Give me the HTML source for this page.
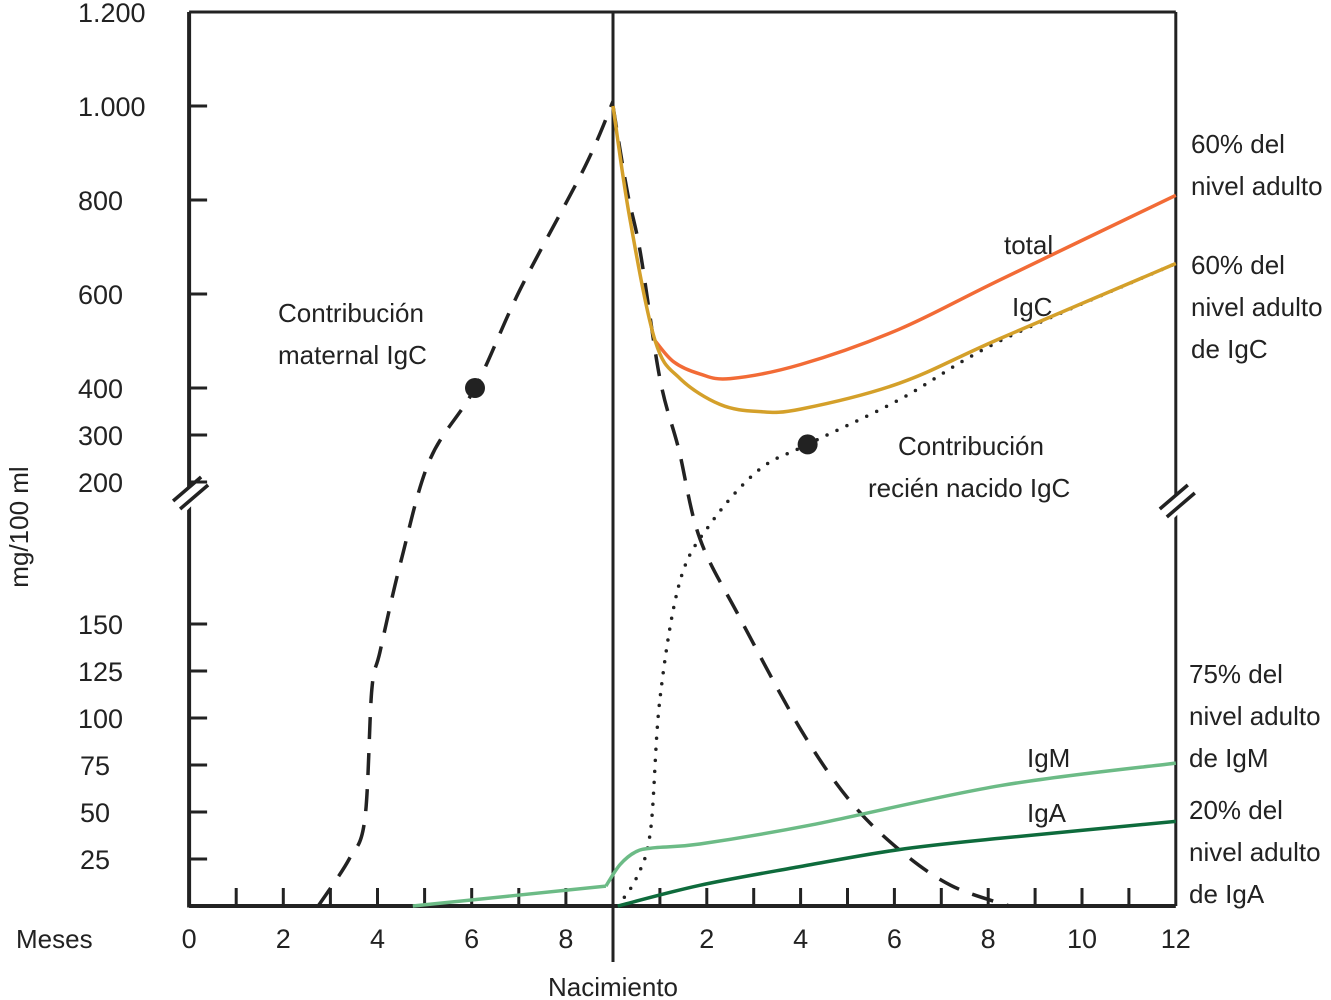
<!DOCTYPE html>
<html><head><meta charset="utf-8"><style>
html,body{margin:0;padding:0;background:#fff}
svg{display:block}
text{font-family:"Liberation Sans","DejaVu Sans",sans-serif;fill:#222}
</style></head><body>
<svg id="chart" width="1331" height="1000" viewBox="0 0 1331 1000" xmlns="http://www.w3.org/2000/svg">
<g id="axes"></g>
<g id="series"></g>
<g id="labels">
<text x="28" y="527" font-size="26" text-anchor="middle" transform="rotate(-90 28 527)">mg/100 ml</text>
<text x="16" y="948" font-size="26">Meses</text>
<text x="613" y="996" font-size="26" text-anchor="middle">Nacimiento</text>
<text x="278" y="322" font-size="26">Contribución</text>
<text x="278" y="364" font-size="26">maternal IgC</text>
<text x="898" y="455" font-size="26">Contribución</text>
<text x="868" y="497" font-size="26">recién nacido IgC</text>
<text x="1004" y="254" font-size="26">total</text>
<text x="1012" y="316" font-size="26">IgC</text>
<text x="1027" y="767" font-size="26">IgM</text>
<text x="1027" y="822" font-size="26">IgA</text>
<g font-size="26">
<text x="1191" y="153">60% del</text><text x="1191" y="195">nivel adulto</text>
<text x="1191" y="274">60% del</text><text x="1191" y="316">nivel adulto</text><text x="1191" y="358">de IgC</text>
<text x="1189" y="683">75% del</text><text x="1189" y="725">nivel adulto</text><text x="1189" y="767">de IgM</text>
<text x="1189" y="819">20% del</text><text x="1189" y="861">nivel adulto</text><text x="1189" y="903">de IgA</text>
</g>
</g>
</svg>
<script>
// months relative to birth (negative = pregnancy), values mg/100 ml
const yTicksUpper = [1200, 1000, 800, 600, 400, 300, 200];
const yTickLabelsUpper = ["1.200", "1.000", "800", "600", "400", "300", "200"];
const yTicksLower = [150, 125, 100, 75, 50, 25];
const xTicksLeft = [0, 2, 4, 6, 8];
const xTicksRight = [2, 4, 6, 8, 10, 12];
const maternalM = [-6.26, -5.6, -5.27, -5.12, -4.95, -4.5, -3.89, -2.93, -1.97, -0.6, 0];
const maternalV = [0, 25, 46, 115, 135, 172, 247, 400, 610, 870, 1010];
const decayM = [0, 0.3, 0.58, 1.0, 1.4, 1.85, 2.7, 4.0, 5.05, 6.1, 7.2, 8.45];
const decayV = [1000, 820, 690, 420, 270, 180, 152, 94, 56, 30, 11, 0];
const newbornM = [0.1, 0.5, 0.8, 1.0, 1.43, 2.07, 3.1, 4.15, 6.1, 8.25, 12];
const newbornV = [0, 15, 40, 110, 165, 185, 225, 280, 375, 500, 665];
const iggM = [0, 0.36, 0.9, 1.43, 2.28, 3.1, 4, 6.1, 8.25, 12];
const iggV = [1000, 760, 500, 420, 365, 350, 355, 410, 505, 665];
const totalM = [0.9, 1.3, 1.85, 2.5, 4, 6.1, 8.25, 12];
const totalV = [500, 455, 430, 420, 450, 525, 630, 810];
const igmPreM = [-4.25, -0.15];
const igmPreV = [0, 10.6];
const igmPostM = [-0.15, 0.15, 0.5, 0.9, 1.85, 4.2, 8.25, 12];
const igmPostV = [10.6, 22, 29, 31, 33, 43, 64, 76];
const igaM = [0.1, 1.85, 4, 6.1, 8.25, 12];
const igaV = [0, 11, 21, 30, 36, 45];
const markerM = [-2.93, 4.15];
const markerV = [400, 280];

const NS = "http://www.w3.org/2000/svg";
function x(m){ return m < 0 ? 613 + m * 47.1 : 613 + m * 46.9; }
function y(v){
  if (v >= 200) return 482 - (v - 200) * 0.47;
  if (v <= 150) return 906 - v * 1.88;
  return 623 - (v - 150) / 50 * 141;
}
function el(tag, attrs, parent){
  const e = document.createElementNS(NS, tag);
  for (const k in attrs) e.setAttribute(k, attrs[k]);
  parent.appendChild(e); return e;
}
function smooth(ms, vs){
  const p = ms.map((m,i)=>[x(m), y(vs[i])]);
  let d = "M" + p[0][0].toFixed(1) + "," + p[0][1].toFixed(1);
  for (let i=0;i<p.length-1;i++){
    const p0=p[i-1]||p[i], p1=p[i], p2=p[i+1], p3=p[i+2]||p2;
    const c1=[p1[0]+(p2[0]-p0[0])/6, p1[1]+(p2[1]-p0[1])/6];
    const c2=[p2[0]-(p3[0]-p1[0])/6, p2[1]-(p3[1]-p1[1])/6];
    d += " C"+c1.map(n=>n.toFixed(1)).join(",")+" "+c2.map(n=>n.toFixed(1)).join(",")+" "+p2.map(n=>n.toFixed(1)).join(",");
  }
  return d;
}
const axes = document.getElementById("axes");
const series = document.getElementById("series");
const X0 = x(-9), X1 = x(12), YB = 906;
let e;
e = el("line",{x1:X0,y1:12,x2:X1,y2:12,stroke:"#222","stroke-width":3},axes);
 
e = el("line",{x1:X0,y1:12,x2:X0,y2:YB+1.5,stroke:"#222","stroke-width":4},axes);
 
e = el("line",{x1:X1,y1:12,x2:X1,y2:YB,stroke:"#222","stroke-width":3},axes);
 
e = el("line",{x1:X0,y1:YB,x2:X1,y2:YB,stroke:"#222","stroke-width":4},axes);
 
e = el("line",{x1:613,y1:12,x2:613,y2:962,stroke:"#222","stroke-width":3},axes);
 
[[X0,497],[X1,505]].forEach(([bx,by])=>{
  el("rect",{x:bx-14,y:by-6,width:28,height:14,fill:"#fff",transform:`rotate(-45 ${bx} ${by})`},axes);
  e = el("path",{d:`M${bx-16},${by+4} L${bx+12},${by-20} M${bx-9},${by+12} L${bx+19},${by-12}`,stroke:"#222","stroke-width":3.5,fill:"none"},axes);
   
});
yTicksUpper.forEach((v,i)=>{
  if (v!==1200){ e = el("line",{x1:X0,y1:y(v),x2:X0+18,y2:y(v),stroke:"#222","stroke-width":3},axes);
    }
  const t = el("text",{x:78,y:y(v)+10,"font-size":27},axes);
  t.textContent = yTickLabelsUpper[i];
   
});
yTicksLower.forEach(v=>{
  e = el("line",{x1:X0,y1:y(v),x2:X0+18,y2:y(v),stroke:"#222","stroke-width":3},axes);
   
  const t = el("text",{x:v<100?80:78,y:y(v)+10,"font-size":27},axes);
  t.textContent = String(v);
   
});
for (let m=-8;m<=11;m++){
  if (m===0) continue;
  e = el("line",{x1:x(m),y1:YB,x2:x(m),y2:YB-18,stroke:"#222","stroke-width":3},axes);
   
}
xTicksLeft.forEach(v=>{
  const t = el("text",{x:x(v-9),y:948,"font-size":27,"text-anchor":"middle"},axes);
  t.textContent = String(v);
   
});
xTicksRight.forEach(v=>{
  const t = el("text",{x:x(v),y:948,"font-size":27,"text-anchor":"middle"},axes);
  t.textContent = String(v);
   
});
e = el("path",{d:smooth(maternalM,maternalV),fill:"none",stroke:"#222","stroke-width":3.5,"stroke-dasharray":"22 14"},series);
 
e = el("path",{d:smooth(decayM,decayV),fill:"none",stroke:"#222","stroke-width":3.5,"stroke-dasharray":"22 14"},series);
 
e = el("path",{d:smooth(newbornM,newbornV),fill:"none",stroke:"#222","stroke-width":3.5,"stroke-dasharray":"0 11","stroke-linecap":"round"},series);
 
e = el("path",{d:smooth(totalM,totalV),fill:"none",stroke:"#f26b36","stroke-width":3.5},series);
 
e = el("path",{d:smooth(iggM,iggV),fill:"none",stroke:"#d4a02a","stroke-width":3.5},series);
 
e = el("path",{d:smooth(igmPreM,igmPreV),fill:"none",stroke:"#6cbb86","stroke-width":3.5},series);
 
e = el("path",{d:smooth(igmPostM,igmPostV),fill:"none",stroke:"#6cbb86","stroke-width":3.5},series);
 
e = el("path",{d:smooth(igaM,igaV),fill:"none",stroke:"#0e6b3c","stroke-width":3.5},series);
 
markerM.forEach((m,i)=>{
  e = el("circle",{cx:x(m),cy:y(markerV[i]),r:10,fill:"#222"},series);
   
});
</script>
</body></html>
